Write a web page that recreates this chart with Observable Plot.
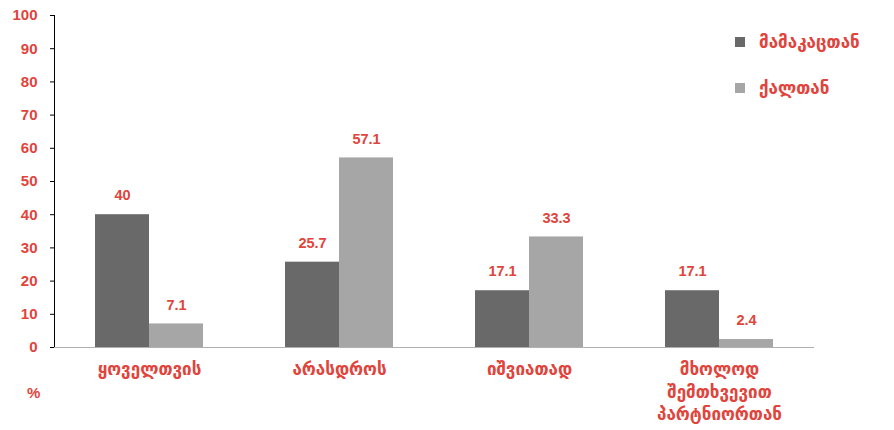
<!DOCTYPE html>
<html><head><meta charset="utf-8">
<script src="https://cdn.jsdelivr.net/npm/d3@7"></script>
<script src="https://cdn.jsdelivr.net/npm/@observablehq/plot@0.6"></script>
<style>
body{margin:0;background:#fff;}
#wrap{position:relative;width:894px;height:430px;}
svg [aria-label="y-axis tick label"] text{fill:#e0443c;font-weight:bold;font-size:15px;font-family:"Liberation Sans",Arial,sans-serif;}
.leg{position:absolute;left:735px;font-family:"DejaVu Sans",sans-serif;font-size:17px;color:#e0443c;font-weight:bold;display:flex;align-items:center;height:20px;}
.leg span.sw{display:inline-block;width:10px;height:10px;margin-right:14px;}
#pct{position:absolute;left:27px;top:384px;font-family:"Liberation Sans",Arial,sans-serif;font-weight:bold;font-size:15px;color:#e0443c;}
</style></head>
<body><div id="wrap"></div>
<script>
const categories = ["ყოველთვის","არასდროს","იშვიათად","მხოლოდ\nშემთხვევით\nპარტნიორთან"];
const seriesNames = ["მამაკაცთან","ქალთან"];
const menValues = [40, 25.7, 17.1, 17.1];
const womenValues = [7.1, 57.1, 33.3, 2.4];
const yTicks = [0,10,20,30,40,50,60,70,80,90,100];
const colors = ["#696969","#a6a6a6"];
const red = "#e0443c";

const data = [];
categories.forEach((c,i)=>{
  data.push({cat:c, series:seriesNames[0], value:menValues[i]});
  data.push({cat:c, series:seriesNames[1], value:womenValues[i]});
});

const chart = Plot.plot({
  width: 894, height: 430,
  marginLeft: 53, marginRight: 79, marginTop: 15, marginBottom: 83,
  fx: {domain: categories, paddingInner: 0, paddingOuter: 0, axis: null},
  x: {domain: seriesNames, paddingInner: 0, paddingOuter: 0.748, axis: null},
  y: {domain: [0,100], ticks: yTicks, tickSize: 4, tickPadding: 13, line: true, label: null, color: "#b0b0b0"},
  color: {domain: seriesNames, range: colors},
  style: {fontFamily: "\"Liberation Sans\", Arial, sans-serif"},
  marks: [
    Plot.barY(data, {fx: "cat", x: "series", y: "value", fill: "series"}),
    Plot.ruleY([0], {stroke: "#b0b0b0"}),
    Plot.text(data, {fx: "cat", x: "series", y: "value", text: d => String(d.value), dy: -19, fill: red, fontWeight: "bold", fontSize: 14.5}),
    Plot.axisFx({anchor: "bottom", tickSize: 0, tickPadding: 12, fill: red, fontSize: 17, fontWeight: "bold", lineHeight: 1.32, fontFamily: "DejaVu Sans", label: null})
  ]
});
const wrap = document.getElementById("wrap");
wrap.appendChild(chart);
seriesNames.forEach((s,i)=>{
  const d = document.createElement("div");
  d.className = "leg";
  d.style.top = (i===0 ? 32 : 78) + "px";
  d.innerHTML = `<span class="sw" style="background:${colors[i]}"></span>${s}`;
  wrap.appendChild(d);
});
const p = document.createElement("div");
p.id = "pct"; p.textContent = "%";
wrap.appendChild(p);
</script></body></html>
